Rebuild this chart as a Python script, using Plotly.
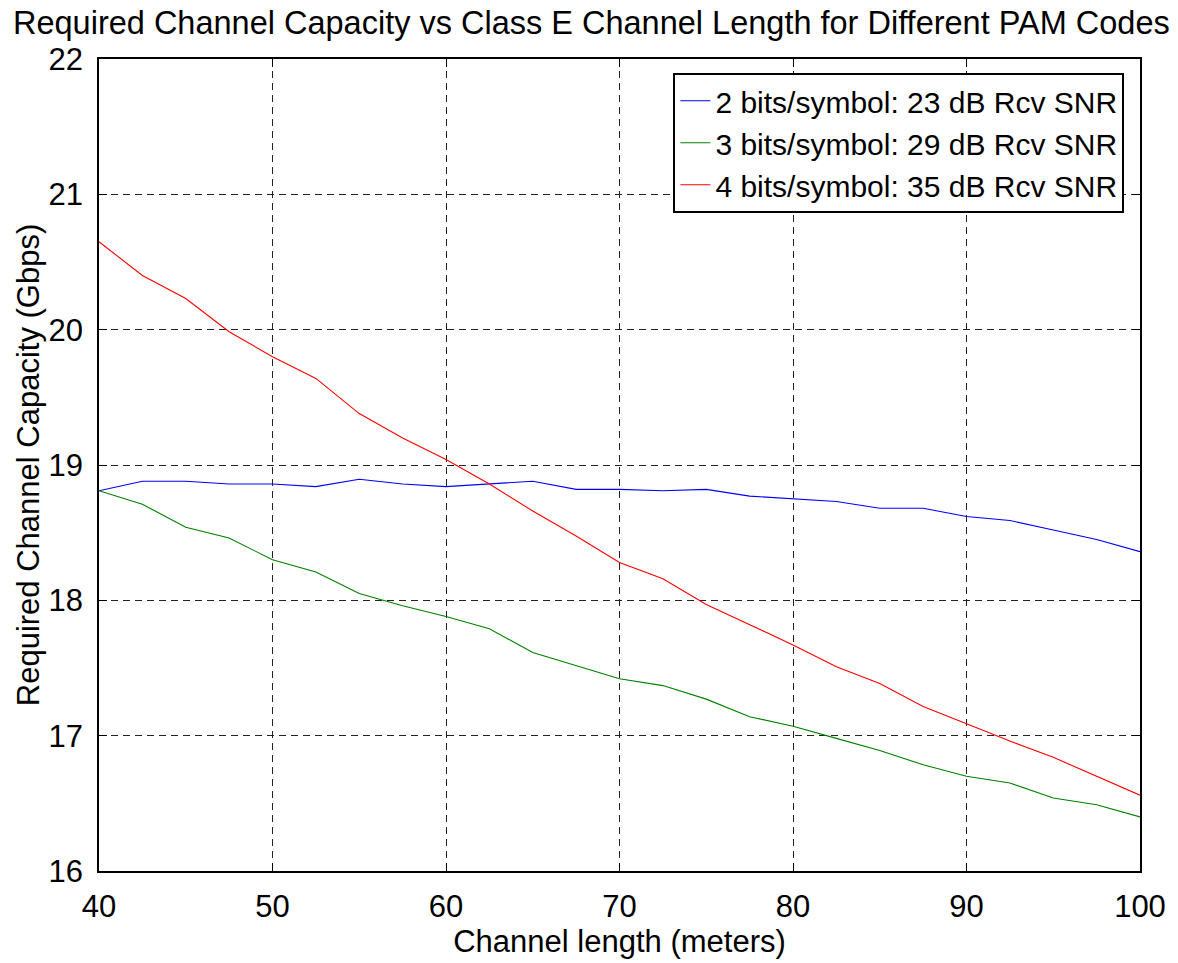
import plotly.graph_objects as go

# Channel length (meters)
lengths = [40, 42.5, 45, 47.5, 50, 52.5, 55, 57.5, 60, 62.5, 65, 67.5, 70,
           72.5, 75, 77.5, 80, 82.5, 85, 87.5, 90, 92.5, 95, 97.5, 100]

# Required channel capacity (Gbps)
cap_2bits = [18.81, 18.88, 18.88, 18.86, 18.86, 18.84, 18.895, 18.86, 18.84, 18.86, 18.88, 18.82, 18.82,
             18.81, 18.82, 18.77, 18.75, 18.73, 18.68, 18.68, 18.62, 18.59, 18.52, 18.45, 18.36]
cap_3bits = [18.81, 18.71, 18.54, 18.46, 18.30, 18.21, 18.05, 17.96, 17.88, 17.79, 17.615, 17.52, 17.42,
             17.37, 17.27, 17.14, 17.07, 16.98, 16.89, 16.785, 16.70, 16.65, 16.54, 16.49, 16.40]
cap_4bits = [20.65, 20.40, 20.23, 19.985, 19.80, 19.64, 19.38, 19.20, 19.04, 18.86, 18.66, 18.476, 18.28,
             18.16, 17.97, 17.82, 17.67, 17.51, 17.385, 17.215, 17.085, 16.96, 16.84, 16.70, 16.56]

names = ["2 bits/symbol: 23 dB Rcv SNR",
         "3 bits/symbol: 29 dB Rcv SNR",
         "4 bits/symbol: 35 dB Rcv SNR"]
colors = ["#0000ff", "#008000", "#ff0000"]

x_ticks = [40, 50, 60, 70, 80, 90, 100]
y_ticks = [16, 17, 18, 19, 20, 21, 22]

FONT = "Arial, 'Liberation Sans', Helvetica, sans-serif"

fig = go.Figure()
for ys, name, col in zip([cap_2bits, cap_3bits, cap_4bits], names, colors):
    fig.add_trace(go.Scatter(x=lengths, y=ys, mode="lines", name=name,
                             line=dict(color=col, width=1.1)))

axis_common = dict(
    showline=True, linecolor="black", linewidth=1.5, mirror="ticks",
    ticks="inside", ticklen=8, tickwidth=1, tickcolor="black",
    showgrid=True, gridcolor="#222222", gridwidth=1, griddash="7px,5px",
    zeroline=False, tickfont=dict(family=FONT, size=31, color="black"),
)

fig.update_layout(
    width=1178, height=963,
    margin=dict(l=99, r=32, t=59, b=86),
    paper_bgcolor="white", plot_bgcolor="white",
    font=dict(family=FONT, size=31, color="black"),
    title=dict(text="Required Channel Capacity vs Class E Channel Length for Different PAM Codes",
               x=0.502, xref="container", xanchor="center",
               y=0.977, yref="container", yanchor="middle",
               font=dict(family=FONT, size=32.5, color="black")),
    xaxis=dict(range=[40, 100], tickvals=x_ticks, ticklabelstandoff=7,
               title=dict(text="Channel length (meters)", standoff=5,
                          font=dict(family=FONT, size=31, color="black")),
               **axis_common),
    yaxis=dict(range=[16, 22], tickvals=y_ticks, ticklabelstandoff=8,
               title=dict(text="Required Channel Capacity (Gbps)", standoff=0,
                          font=dict(family=FONT, size=31, color="black")),
               **axis_common),
    legend=dict(x=0.985, xanchor="right", y=0.983, yanchor="top",
                bgcolor="white", bordercolor="black", borderwidth=2,
                font=dict(family=FONT, size=30, color="black"),
                tracegroupgap=0),
    showlegend=True,
)

fig.write_html("out.html", config={"displayModeBar": False},
               post_script="document.body.style.margin='0px';")
